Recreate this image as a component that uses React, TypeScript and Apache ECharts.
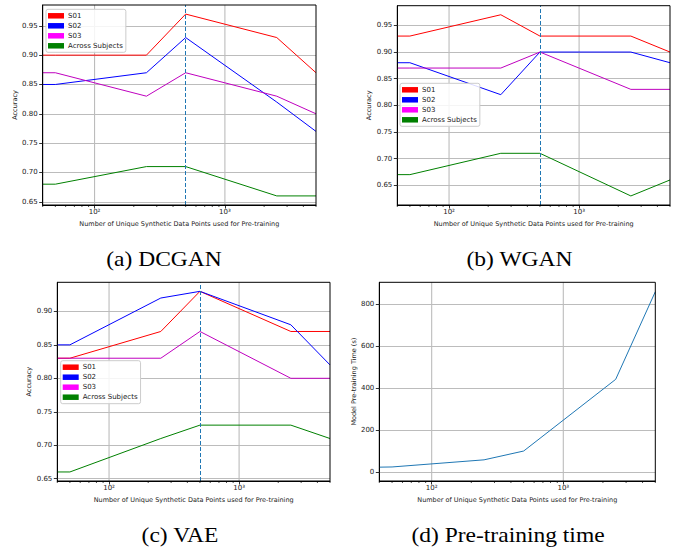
import React, { useEffect, useRef } from "react";
import * as echarts from "echarts";

// ---- data ----
const xPoints = [40, 50, 250, 500, 2500, 5000];
const seriesNames = ["S01", "S02", "S03", "Across Subjects"];

const dcganS01 = [0.9, 0.9, 0.9, 0.97, 0.93, 0.87];
const dcganS02 = [0.85, 0.85, 0.87, 0.93, 0.82, 0.77];
const dcganS03 = [0.87, 0.87, 0.83, 0.87, 0.83, 0.8];
const dcganAcross = [0.68, 0.68, 0.71, 0.71, 0.66, 0.66];

const wganS01 = [0.93, 0.93, 0.97, 0.93, 0.93, 0.9];
const wganS02 = [0.88, 0.88, 0.82, 0.9, 0.9, 0.88];
const wganS03 = [0.87, 0.87, 0.87, 0.9, 0.83, 0.83];
const wganAcross = [0.67, 0.67, 0.71, 0.71, 0.63, 0.66];

const vaeS01 = [0.83, 0.83, 0.87, 0.93, 0.87, 0.87];
const vaeS02 = [0.85, 0.85, 0.92, 0.93, 0.88, 0.82];
const vaeS03 = [0.83, 0.83, 0.83, 0.87, 0.8, 0.8];
const vaeAcross = [0.66, 0.66, 0.71, 0.73, 0.73, 0.71];

const pretrainTime = [23, 24, 58, 100, 442, 860];

const cutoffX = 500;
const xMajorTicks = [100, 1000];
const minorTickValues = [40, 50, 60, 70, 80, 90, 200, 300, 400, 500, 600, 700, 800, 900, 2000, 3000, 4000, 5000];
const accuracyTicks = [0.65, 0.7, 0.75, 0.8, 0.85, 0.9, 0.95];
const timeTicks = [0, 200, 400, 600, 800];
const captions = ["(a) DCGAN", "(b) WGAN", "(c) VAE", "(d) Pre-training time"];
const xAxisTitle = "Number of Unique Synthetic Data Points used for Pre-training";
const yTitles = ["Accuracy", "Accuracy", "Accuracy", "Model Pre-training Time (s)"];

// ---- layout / styles ----
const lineColors = ["#ff0000", "#0000ff", "#bf00bf", "#008000"];
const legendColors = ["#ff0000", "#0000ff", "#ff00ff", "#008000"];
const grids = [
  { left: 42.7, top: 5, width: 273.3, height: 200 },
  { left: 397.3, top: 5.7, width: 272.7, height: 199.3 },
  { left: 57.3, top: 282.3, width: 272.7, height: 198.7 },
  { left: 379.3, top: 282.3, width: 276, height: 198.7 },
];
const yRanges = [
  [0.6445, 0.9855],
  [0.613, 0.987],
  [0.6465, 0.9435],
  [-43, 905],
];
const yNameGaps = [24, 24, 23, 21];
const legendPos = [
  { left: 46, top: 9.3 },
  { left: 400, top: 83.3 },
  { left: 60.7, top: 360.7 },
];
const captionPos = [
  { x: 164, y: 259 },
  { x: 519.5, y: 259 },
  { x: 180, y: 535 },
  { x: 508, y: 535 },
];

const TICK_FONT = "DejaVu Sans";
const GRID_COLOR = "#bcbcbc";

export default function App() {
  const ref = useRef<HTMLDivElement>(null);
  useEffect(() => {
    document.body.style.margin = "0";
    if (!ref.current) return;
    const chart = echarts.init(ref.current, null, { renderer: "svg" });

    const panelData = [
      [dcganS01, dcganS02, dcganS03, dcganAcross],
      [wganS01, wganS02, wganS03, wganAcross],
      [vaeS01, vaeS02, vaeS03, vaeAcross],
    ];

    const xAxes = grids.map((_, i) => ({
      type: "log",
      logBase: 10,
      gridIndex: i,
      min: 40,
      max: 5000,
      name: xAxisTitle,
      nameLocation: "middle",
      nameGap: 15,
      nameTextStyle: { fontFamily: TICK_FONT, fontSize: 6.5, color: "#222" },
      axisLine: { show: true, onZero: false, lineStyle: { color: "#000", width: 1 } },
      axisTick: { show: true, length: 3.5, lineStyle: { color: "#000", width: 0.8 } },
      axisLabel: {
        fontFamily: TICK_FONT,
        fontSize: 7,
        color: "#222",
        margin: 3,
        showMinLabel: false,
        showMaxLabel: false,
        formatter: (v: number) => {
          const e = Math.round(Math.log10(v));
          return e === 2 ? "10²" : e === 3 ? "10³" : "";
        },
      },
      splitLine: { show: false },
    }));

    const yAxes = grids.map((_, i) => ({
      type: "value",
      gridIndex: i,
      min: yRanges[i][0],
      max: yRanges[i][1],
      minInterval: i === 3 ? 200 : 0.05,
      maxInterval: i === 3 ? 200 : 0.05,
      name: yTitles[i],
      nameLocation: "middle",
      nameRotate: 90,
      nameGap: yNameGaps[i],
      nameTextStyle: { fontFamily: TICK_FONT, fontSize: 6.5, color: "#222" },
      axisLine: { show: true, onZero: false, lineStyle: { color: "#000", width: 1 } },
      axisTick: { show: true, length: 3.5, lineStyle: { color: "#000", width: 0.8 } },
      axisLabel: {
        fontFamily: TICK_FONT,
        fontSize: 7,
        color: "#222",
        margin: 5,
        showMinLabel: false,
        showMaxLabel: false,
        formatter: (v: number) => (i === 3 ? String(Math.round(v)) : v.toFixed(2)),
      },
      splitLine: { show: false },
    }));

    const series: any[] = [];

    // grid lines drawn through the axes' scales
    grids.forEach((_, i) => {
      const yTicks = (i === 3 ? timeTicks : accuracyTicks).filter(
        (v) => v > yRanges[i][0] && v < yRanges[i][1]
      );
      series.push({
        type: "custom",
        name: "vgrid" + i,
        xAxisIndex: i,
        yAxisIndex: i,
        silent: true,
        z: 1,
        data: xMajorTicks.map((v) => [v, yRanges[i][0]]),
        renderItem: (params: any, api: any) => {
          const cs = params.coordSys;
          const x = api.coord([api.value(0), api.value(1)])[0];
          return {
            type: "line",
            shape: { x1: x, y1: cs.y, x2: x, y2: cs.y + cs.height },
            style: { stroke: GRID_COLOR, lineWidth: 1.1 },
          };
        },
      });
      series.push({
        type: "line",
        name: "hgrid" + i,
        xAxisIndex: i,
        yAxisIndex: i,
        data: [],
        silent: true,
        z: 5,
        markLine: {
          silent: true,
          z: 5,
          symbol: ["none", "none"],
          label: { show: false },
          lineStyle: { color: GRID_COLOR, type: "solid", width: 1.1 },
          data: yTicks.map((v) => ({ yAxis: v })),
        },
      });
    });

    panelData.forEach((panel, p) => {
      panel.forEach((vals, s) => {
        const item: any = {
          type: "line",
          name: seriesNames[s],
          xAxisIndex: p,
          yAxisIndex: p,
          data: xPoints.map((x, k) => [x, vals[k]]),
          symbol: "none",
          showSymbol: false,
          lineStyle: { color: lineColors[s], width: 1 },
          itemStyle: { color: legendColors[s] },
          z: 6,
        };
        if (s === 0) {
          item.markLine = {
            silent: true,
            symbol: ["none", "none"],
            label: { show: false },
            lineStyle: { color: "#1f77b4", type: [4, 2], width: 1 },
            data: [{ xAxis: cutoffX }],
            z: 7,
          };
        }
        series.push(item);
      });
    });
    series.push({
      type: "line",
      name: "time",
      xAxisIndex: 3,
      yAxisIndex: 3,
      data: xPoints.map((x, k) => [x, pretrainTime[k]]),
      symbol: "none",
      showSymbol: false,
      lineStyle: { color: "#1f77b4", width: 1 },
      itemStyle: { color: "#1f77b4" },
      z: 6,
    });
    grids.forEach((_, i) => {
      series.push({
        type: "custom",
        name: "minor" + i,
        xAxisIndex: i,
        yAxisIndex: i,
        silent: true,
        clip: false,
        z: 8,
        data: minorTickValues.map((v) => [v, yRanges[i][0]]),
        renderItem: (params: any, api: any) => {
          const cs = params.coordSys;
          const x = api.coord([api.value(0), api.value(1)])[0];
          const yb = cs.y + cs.height;
          return {
            type: "line",
            shape: { x1: x, y1: yb, x2: x, y2: yb + 2 },
            style: { stroke: "#000", lineWidth: 0.7 },
          };
        },
      });
    });

    const legends = legendPos.map((pos) => ({
      show: true,
      orient: "vertical",
      left: pos.left,
      top: pos.top,
      icon: "rect",
      itemWidth: 16,
      itemHeight: 5.5,
      itemGap: 3,
      padding: [3, 3, 3, 2],
      backgroundColor: "rgba(255,255,255,0.85)",
      borderColor: "#cccccc",
      borderWidth: 1,
      borderRadius: 2,
      selectedMode: false,
      z: 12,
      textStyle: { fontFamily: TICK_FONT, fontSize: 7, color: "#222", padding: [0, 0, 0, -1] },
      data: seriesNames.map((n, k) => ({ name: n, itemStyle: { color: legendColors[k] } })),
    }));

    const frames = grids.map((g) => ({
      type: "rect",
      z: 9,
      silent: true,
      shape: { x: g.left, y: g.top, width: g.width, height: g.height },
      style: { fill: "none", stroke: "#000", lineWidth: 1 },
    }));

    const texts = captions.map((c, i) => ({
      type: "text",
      x: captionPos[i].x,
      y: captionPos[i].y,
      scaleX: 1.12,
      style: {
        text: c,
        fontFamily: "Liberation Serif",
        fontSize: 21,
        fill: "#000",
        align: "center",
        verticalAlign: "middle",
      },
    }));

    chart.setOption({
      animation: false,
      backgroundColor: "#ffffff",
      grid: grids.map((g) => ({ ...g, show: false, containLabel: false })),
      xAxis: xAxes,
      yAxis: yAxes,
      legend: legends,
      series,
      graphic: [...frames, ...texts],
    });

    return () => chart.dispose();
  }, []);
  return <div ref={ref} style={{ width: 681, height: 550 }} />;
}
